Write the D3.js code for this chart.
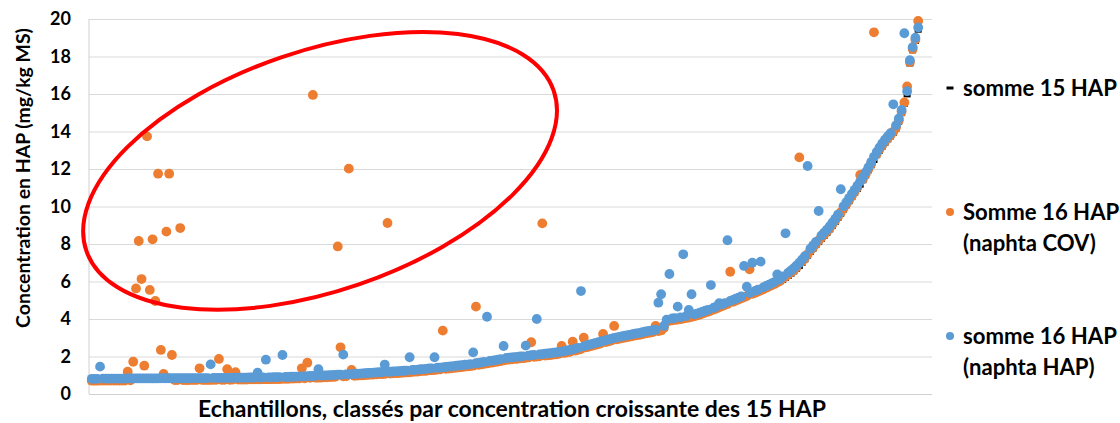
<!DOCTYPE html>
<html>
<head>
  <meta charset="utf-8">
  <script src="https://d3js.org/d3.v7.min.js"></script>
  <style>
    body { margin: 0; background: #fff; }
    svg text { font-family: Lato, "Open Sans", sans-serif; font-weight: bold; fill: #000; }
    .grid line { stroke: #d9d9d9; stroke-width: 1px; }
    .grid path { display: none; }
  </style>
</head>
<body>
<svg id="chart"></svg>
<script>

// samples ranked by increasing sum of 15 HAP (mg/kg MS)
var somme15 = [
  0.68,0.68,0.68,0.69,0.69,0.69,0.69,0.69,0.69,0.69,
  0.69,0.69,0.69,0.70,0.70,0.70,0.70,0.70,0.70,0.70,
  0.70,0.70,0.70,0.70,0.70,0.71,0.71,0.71,0.71,0.71,
  0.71,0.71,0.71,0.71,0.71,0.71,0.72,0.72,0.72,0.72,
  0.72,0.72,0.72,0.72,0.73,0.73,0.73,0.73,0.73,0.73,
  0.73,0.74,0.74,0.74,0.74,0.74,0.74,0.75,0.75,0.75,
  0.75,0.75,0.76,0.76,0.76,0.76,0.77,0.77,0.77,0.78,
  0.78,0.78,0.79,0.79,0.80,0.80,0.81,0.81,0.82,0.83,
  0.83,0.84,0.84,0.85,0.86,0.86,0.87,0.88,0.89,0.90,
  0.90,0.91,0.92,0.92,0.93,0.94,0.95,0.96,0.97,0.98,
  0.98,0.99,1.00,1.01,1.02,1.02,1.03,1.04,1.05,1.06,
  1.07,1.08,1.09,1.10,1.11,1.12,1.14,1.15,1.16,1.18,
  1.19,1.20,1.22,1.23,1.24,1.26,1.27,1.28,1.30,1.32,
  1.33,1.35,1.37,1.38,1.40,1.42,1.43,1.45,1.47,1.50,
  1.52,1.54,1.57,1.59,1.62,1.64,1.67,1.69,1.72,1.75,
  1.76,1.78,1.79,1.81,1.82,1.84,1.85,1.87,1.89,1.91,
  1.92,1.94,1.95,1.97,1.99,2.00,2.02,2.04,2.06,2.08,
  2.10,2.13,2.16,2.19,2.22,2.26,2.30,2.34,2.38,2.43,
  2.47,2.51,2.55,2.59,2.63,2.67,2.71,2.75,2.79,2.83,
  2.86,2.89,2.92,2.95,2.98,3.01,3.04,3.07,3.09,3.12,
  3.14,3.17,3.19,3.22,3.25,3.28,3.31,3.45,3.78,3.82,
  3.85,3.87,3.89,3.91,3.94,3.97,4.00,4.03,4.07,4.11,
  4.16,4.21,4.26,4.31,4.37,4.42,4.48,4.54,4.60,4.66,
  4.72,4.78,4.84,4.90,4.96,5.02,5.08,5.14,5.20,5.26,
  5.32,5.38,5.44,5.51,5.58,5.65,5.72,5.79,5.86,5.94,
  6.02,6.12,6.22,6.34,6.46,6.60,6.75,6.92,7.10,7.30,
  7.50,7.68,7.86,8.04,8.20,8.36,8.52,8.70,8.90,9.10,
  9.32,9.54,9.76,9.98,10.20,10.42,10.64,10.86,11.08,11.32,
  11.58,11.85,12.12,12.40,12.66,12.90,13.12,13.32,13.50,13.66,
  13.84,14.08,14.45,14.90,15.40,15.90,17.55,18.25,18.75,19.35
];

// naphtalene measured in the COV analysis, same samples
var naphtaCOV = [
  .03,.03,.03,.03,.03,.03,.03,.03,.03,.03,
  .03,.03,.03,.49,.03,1.02,4.93,7.46,5.43,.81,
  13.04,4.85,7.55,4.26,11.05,1.64,.36,7.95,11.04,1.37,
  .03,.03,8.14,.03,.03,.03,.03,.03,.03,.65,
  .03,.03,.03,.03,.03,.03,1.14,.03,.03,.59,
  .03,.03,.42,.03,.03,.03,.03,.03,.03,.03,
  .03,.03,.03,.03,.03,.03,.03,.03,.03,.03,
  .03,.03,.03,.03,.03,.03,.56,.03,.85,.03,
  15.12,.03,.03,.03,.03,.03,.03,.03,.03,6.97,
  1.59,.03,.03,11.10,.35,.03,.03,.03,.03,.03,
  .04,.04,.04,.04,.04,.04,.04,8.08,.04,.04,
  .04,.04,.04,.04,.04,.04,.04,.04,.04,.04,
  .04,.04,.04,.04,.04,.04,.04,2.10,.04,.04,
  .04,.04,.04,.04,.04,.04,.04,.04,.04,3.16,
  .04,.04,.04,.04,.04,.04,.04,.04,.04,.04,
  .06,.06,.06,.06,.06,.06,.06,.06,.06,.85,
  .06,.06,.06,7.13,.06,.06,.06,.06,.06,.06,
  .46,.06,.06,.06,.57,.06,.06,.06,.62,.06,
  .06,.06,.06,.06,.06,.53,.06,.06,.06,.80,
  .06,.06,.06,.06,.06,.06,.06,.06,.06,.06,
  .08,.08,.08,.08,.38,.08,.08,.08,.08,.08,
  .08,.08,.08,.08,.08,.08,.08,.08,.08,.08,
  .08,.08,.08,.08,.08,.08,.08,.08,.08,.08,
  .08,1.74,.08,.08,.08,.08,.08,.08,1.45,.08,
  .08,.08,.08,.08,.08,.08,.08,.08,.08,.08,
  .15,.15,.15,.15,.15,.15,5.87,.15,.15,.15,
  .15,.15,.15,.15,.15,.15,.15,.15,.15,.15,
  .15,.15,.15,.15,.15,.15,.15,.15,.60,.15,
  .15,.15,.15,6.89,.15,.15,.15,.15,.15,.15,
  .15,.15,.15,.15,.15,.50,.15,.15,.15,.55
];

// naphtalene measured in the HAP analysis, same samples
var naphtaHAP = [
  .13,.13,.13,.77,.13,.13,.13,.13,.13,.13,
  .13,.13,.13,.13,.13,.13,.13,.13,.13,.13,
  .13,.13,.13,.13,.13,.13,.13,.13,.13,.13,
  .13,.13,.13,.13,.13,.13,.13,.13,.13,.13,
  .13,.13,.13,.86,.13,.13,.13,.13,.13,.13,
  .13,.13,.13,.13,.13,.13,.13,.13,.13,.13,
  .39,.13,.13,1.07,.13,.13,.13,.13,.13,1.30,
  .13,.13,.13,.13,.13,.13,.13,.13,.13,.13,
  .13,.13,.48,.13,.13,.13,.13,.13,.13,.13,
  .13,1.19,.13,.13,.13,.13,.13,.13,.13,.13,
  .14,.14,.14,.14,.14,.14,.54,.14,.14,.14,
  .14,.14,.14,.14,.14,.84,.14,.14,.14,.14,
  .14,.14,.14,.14,.72,.14,.14,.14,.14,.14,
  .14,.14,.14,.14,.14,.14,.14,.14,.75,.14,
  .14,.14,.14,2.53,.14,.14,.14,.14,.14,.81,
  .16,.16,.16,.16,.16,.16,.16,.71,.16,.16,
  .16,2.06,.16,.16,.16,.16,.16,.16,.16,.16,
  .16,.16,.16,.16,.16,.16,.16,3.15,.16,.16,
  .16,.16,.16,.16,.16,.16,.16,.16,.16,.16,
  .16,.16,.16,.16,.16,.16,.16,.16,.16,.16,
  .18,.18,.18,.18,.18,1.59,2.01,.18,.18,2.58,
  .18,.18,.77,.18,3.51,.18,.48,1.29,.18,.18,
  .18,.18,.18,.18,1.44,.18,.18,.30,.18,.18,
  3.48,.18,.18,.18,.18,.18,1.75,.58,.18,1.74,
  .18,.18,1.62,.18,.18,.18,.18,.18,.52,.18,
  .25,2.45,.25,.25,.25,.25,.25,.25,.25,4.86,
  .25,.25,.25,1.72,.25,.25,.25,.25,.25,.25,
  .25,1.38,.25,.25,.25,.25,.25,.25,.25,.25,
  .25,.25,.25,.25,.25,.25,.25,.25,.25,.25,
  1.61,.25,.25,.25,3.84,.25,.25,.25,.25,.20
];

var yTicks = [0, 2, 4, 6, 8, 10, 12, 14, 16, 18, 20];
var legendLabels = [["somme 15 HAP"], ["Somme 16 HAP", "(naphta COV)"], ["somme 16 HAP", "(naphta HAP)"]];
var colors = ["#000000", "#ED7D31", "#5B9BD5"];
var yTitle = "Concentration en HAP (mg/kg MS)";
var xTitle = "Echantillons, classés par concentration croissante des 15 HAP";

// the circled group of outliers (centre in data units)
var circled = { rank: 83.6, value: 11.9, rx: 247, ry: 120, angle: -18.9 };

var width = 1120, height = 423;
var margin = { left: 89, right: 188, top: 19, bottom: 29 };

var svg = d3.select("#chart")
    .attr("width", width)
    .attr("height", height);

var x = d3.scaleLinear()
    .domain([0, 305])
    .range([margin.left, width - margin.right]);

var y = d3.scaleLinear()
    .domain([0, 20])
    .range([height - margin.bottom, margin.top]);

// sums of 16 HAP = 15 HAP + naphtalene
var rows = somme15.map(function(v, i) {
  return {
    rank: i + 1,
    s15: v,
    cov: Math.round((v + naphtaCOV[i]) * 100) / 100,
    hap: Math.round((v + naphtaHAP[i]) * 100) / 100
  };
});

svg.append("g")
    .attr("class", "grid")
    .attr("transform", "translate(" + margin.left + ",0)")
    .call(d3.axisLeft(y).tickValues(yTicks).tickSize(-(width - margin.right - margin.left)).tickFormat(""));

// axis lines
svg.append("line")
    .attr("x1", x(0)).attr("x2", x(0))
    .attr("y1", y(0)).attr("y2", y(20))
    .attr("stroke", "#d0d0d0");
svg.append("line")
    .attr("x1", x(0)).attr("x2", x(305))
    .attr("y1", y(0) + 0.5).attr("y2", y(0) + 0.5)
    .attr("stroke", "#d0d0d0");

svg.append("g")
  .selectAll("text")
  .data(yTicks)
  .enter().append("text")
    .attr("x", margin.left - 18)
    .attr("y", function(d) { return y(d); })
    .attr("dy", "0.35em")
    .attr("text-anchor", "end")
    .attr("font-size", 18)
    .text(function(d) { return d; });

function fitWidth(sel, w) {
  var len = sel.node().getComputedTextLength();
  var fs = parseFloat(sel.attr("font-size"));
  sel.attr("font-size", fs * w / len);
}

var yt = svg.append("text")
    .attr("transform", "translate(23," + 178 + ") rotate(-90)")
    .attr("text-anchor", "middle")
    .attr("dy", "0.35em")
    .attr("font-size", 17)
    .text(yTitle);
fitWidth(yt, 300);

var xt = svg.append("text")
    .attr("x", 512)
    .attr("y", 417)
    .attr("text-anchor", "middle")
    .attr("font-size", 19)
    .text(xTitle);
fitWidth(xt, 628);

// series 1: small black dashes
svg.append("g")
  .selectAll("rect")
  .data(rows)
  .enter().append("rect")
    .attr("x", function(d) { return x(d.rank) - 3.5; })
    .attr("y", function(d) { return y(d.s15) - 1.5; })
    .attr("width", 7)
    .attr("height", 3)
    .attr("fill", colors[0]);

svg.append("g")
  .selectAll("circle")
  .data(rows)
  .enter().append("circle")
    .attr("cx", function(d) { return x(d.rank); })
    .attr("cy", function(d) { return y(d.cov); })
    .attr("r", 4.9)
    .attr("fill", colors[1]);

svg.append("g")
  .selectAll("circle")
  .data(rows)
  .enter().append("circle")
    .attr("cx", function(d) { return x(d.rank); })
    .attr("cy", function(d) { return y(d.hap); })
    .attr("r", 4.9)
    .attr("fill", colors[2]);

svg.append("ellipse")
    .attr("transform", "translate(" + x(circled.rank) + "," + y(circled.value) + ") rotate(" + circled.angle + ")")
    .attr("rx", circled.rx)
    .attr("ry", circled.ry)
    .attr("fill", "none")
    .attr("stroke", "#ff0000")
    .attr("stroke-width", 4);

// legend
var legendY = [88, 212, 336];
var legend = svg.append("g")
  .selectAll("g")
  .data(legendLabels)
  .enter().append("g")
    .attr("transform", function(d, i) { return "translate(950," + legendY[i] + ")"; });

legend.each(function(d, i) {
  var g = d3.select(this);
  if (i == 0) {
    g.append("rect").attr("x", -3.5).attr("y", -1.5).attr("width", 7).attr("height", 3).attr("fill", colors[0]);
  } else {
    g.append("circle").attr("r", 4).attr("fill", colors[i]);
  }
  g.selectAll("text")
    .data(d)
    .enter().append("text")
      .attr("class", "leg")
      .attr("x", 13)
      .attr("y", function(t, j) { return j * 31; })
      .attr("dy", "0.35em")
      .attr("font-size", 19)
      .text(function(t) { return t; });
});

var first = svg.select("text.leg");
fitWidth(first, 154);
svg.selectAll("text.leg").attr("font-size", first.attr("font-size"));

</script>
</body>
</html>
